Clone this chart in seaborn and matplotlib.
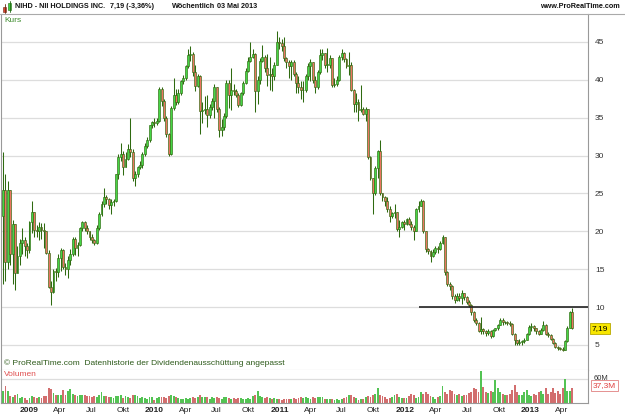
import pandas as pd
import matplotlib
matplotlib.use("Agg")
import matplotlib.pyplot as plt
import matplotlib.dates as mdates
import matplotlib.transforms as mtransforms
from matplotlib.lines import Line2D
from matplotlib.patches import Rectangle
import seaborn as sns

# weekly candles NIHD, last week ends 03 Mai 2013
last_date = "2013-05-03"
first_open = 22.0

close = [25.5, 16.0, 25.5, 17.0, 21.0, 14.5, 16.8, 18.5, 18.8, 18.0,
         17.5, 21.2, 22.5, 20.2, 20.0, 20.6, 20.2, 20.0, 17.2, 12.7,
         12.0, 14.8, 14.6, 16.5, 17.5, 15.3, 15.0, 16.2, 17.0, 19.0,
         17.8, 18.2, 20.5, 21.2, 20.4, 20.0, 19.3, 18.8, 18.5, 20.5,
         22.3, 23.6, 24.5, 24.2, 23.5, 23.8, 24.0, 27.5, 29.8, 30.2,
         28.5, 29.5, 30.8, 30.4, 27.0, 27.6, 28.5, 28.8, 30.2, 31.3,
         32.0, 34.0, 34.4, 34.3, 34.6, 38.8, 37.2, 35.0, 32.8, 30.2,
         36.3, 38.0, 37.0, 38.3, 39.8, 40.2, 41.8, 43.2, 43.4, 41.0,
         39.2, 40.5, 35.9, 36.0, 36.2, 35.3, 36.4, 37.2, 39.0, 36.2,
         33.3, 33.8, 35.2, 39.6, 38.0, 38.7, 38.5, 38.0, 36.6, 38.2,
         39.6, 41.2, 42.5, 43.0, 43.4, 38.5, 40.0, 42.5, 43.0, 41.5,
         40.6, 40.7, 40.5, 42.0, 45.0, 44.8, 44.5, 42.9, 42.3, 41.8,
         42.3, 40.8, 39.6, 39.0, 38.6, 38.6, 40.5, 41.8, 42.4, 40.0,
         39.0, 41.0, 43.2, 43.5, 42.0, 42.0, 42.8, 39.3, 39.5, 40.0,
         43.0, 43.5, 42.7, 41.8, 42.0, 38.7, 36.8, 37.0, 36.0, 36.2,
         35.5, 36.2, 29.8, 27.0, 25.0, 28.4, 30.6, 25.0, 24.5, 24.0,
         23.0, 22.0, 22.4, 22.6, 20.3, 20.6, 21.2, 21.0, 21.6, 21.0,
         20.6, 20.1, 22.9, 23.4, 24.0, 20.0, 17.6, 17.4, 16.8, 17.3,
         17.8, 17.6, 18.5, 19.3, 14.6, 13.0, 12.8, 11.4, 11.0, 11.5,
         11.2, 11.8, 11.3, 10.7, 10.3, 9.3, 8.3, 7.9, 6.9, 7.1,
         6.8, 6.6, 6.9, 6.2, 7.0, 7.2, 7.6, 8.3, 8.0, 8.0,
         7.9, 7.8, 6.5, 5.6, 5.3, 5.4, 5.5, 5.7, 6.4, 7.4,
         7.5, 7.2, 6.8, 6.5, 7.0, 7.7, 6.5, 6.3, 5.8, 5.3,
         4.8, 4.6, 4.5, 4.4, 5.5, 7.3, 9.3, 7.19]

high = [30.4, 27.5, 26.6, 25.5, 21.5, 21.0, 18.0, 19.0, 20.5, 19.3,
        18.5, 21.4, 24.0, 22.6, 20.8, 21.2, 21.1, 21.1, 19.5, 17.5,
        13.5, 15.0, 15.2, 17.0, 17.8, 17.6, 15.8, 16.8, 17.6, 19.3,
        19.2, 18.6, 20.6, 21.4, 21.3, 20.8, 20.0, 19.7, 19.0, 20.8,
        22.5, 24.0, 25.7, 24.8, 24.4, 24.2, 24.3, 27.6, 30.2, 31.6,
        30.6, 30.5, 31.5, 35.0, 30.8, 28.0, 28.6, 29.3, 30.4, 31.6,
        32.4, 34.0, 34.6, 35.0, 34.9, 39.0, 39.0, 37.4, 35.2, 33.0,
        36.5, 40.2, 38.8, 38.8, 40.0, 40.6, 42.0, 44.0, 44.5, 43.6,
        42.0, 40.8, 40.6, 37.0, 37.8, 38.0, 36.8, 37.6, 39.4, 38.6,
        36.4, 34.8, 35.6, 40.0, 40.0, 41.5, 39.4, 38.8, 38.3, 38.4,
        39.8, 41.5, 43.0, 45.0, 44.0, 43.5, 40.5, 42.8, 44.6, 43.2,
        43.4, 43.0, 41.6, 42.3, 46.4, 45.7, 45.4, 45.6, 43.0, 42.6,
        42.6, 42.6, 41.0, 40.5, 39.8, 39.8, 40.8, 42.2, 42.7, 42.3,
        40.5, 41.3, 44.0, 44.0, 43.4, 44.2, 43.2, 42.5, 40.2, 40.5,
        43.3, 44.0, 43.6, 42.8, 43.6, 42.3, 38.8, 38.2, 37.4, 39.3,
        36.4, 36.4, 36.0, 29.9, 26.8, 28.6, 30.7, 32.0, 25.1, 24.6,
        24.5, 23.3, 22.6, 23.6, 22.4, 21.5, 21.4, 21.5, 21.8, 21.9,
        21.4, 20.8, 23.1, 24.0, 24.2, 24.1, 20.1, 17.8, 17.5, 17.6,
        18.1, 18.0, 18.7, 19.5, 19.3, 14.8, 13.3, 12.9, 11.7, 11.8,
        11.8, 12.2, 11.9, 11.4, 11.0, 10.4, 9.5, 8.5, 8.0, 8.7,
        7.2, 7.0, 7.1, 7.0, 7.1, 7.3, 7.8, 8.6, 8.5, 8.2,
        8.2, 8.2, 7.9, 6.6, 5.7, 5.8, 5.7, 5.9, 6.6, 7.6,
        7.9, 7.6, 7.3, 7.0, 7.2, 8.1, 7.8, 6.7, 6.4, 5.9,
        5.4, 4.9, 4.8, 4.7, 5.6, 7.5, 9.5, 9.9]

low = [13.1, 13.5, 15.0, 15.5, 13.1, 12.2, 14.5, 15.5, 17.0, 16.8,
       16.5, 17.2, 19.8, 19.3, 19.3, 18.8, 19.0, 17.8, 17.0, 12.5,
       10.3, 11.8, 13.5, 14.0, 14.8, 15.0, 14.2, 13.8, 15.5, 16.8,
       16.9, 16.8, 18.0, 20.0, 20.0, 19.6, 18.9, 18.4, 18.2, 18.3,
       20.2, 22.0, 23.2, 23.6, 23.0, 22.3, 23.3, 23.8, 26.9, 29.3,
       27.4, 28.6, 29.4, 29.8, 26.6, 26.0, 27.2, 28.2, 28.4, 30.0,
       31.0, 31.8, 33.6, 33.7, 34.0, 34.4, 36.5, 34.5, 32.4, 30.0,
       30.1, 36.0, 36.6, 36.8, 38.0, 39.4, 40.0, 41.5, 42.5, 40.5,
       38.5, 39.0, 32.9, 34.3, 35.5, 33.8, 35.0, 36.0, 35.0, 35.8,
       32.4, 32.6, 33.4, 35.0, 36.3, 36.0, 38.0, 37.7, 36.4, 36.5,
       38.0, 39.4, 41.0, 42.4, 42.8, 35.8, 36.8, 39.5, 42.3, 41.0,
       39.2, 38.6, 38.5, 40.0, 42.0, 44.0, 43.8, 42.5, 41.6, 40.2,
       40.0, 40.5, 38.3, 38.2, 37.5, 37.0, 38.4, 40.0, 39.8, 39.6,
       38.3, 38.8, 40.8, 42.6, 41.6, 41.0, 41.6, 39.0, 39.0, 39.2,
       39.8, 42.6, 42.3, 41.5, 40.6, 38.5, 35.7, 35.7, 34.6, 35.8,
       35.3, 34.6, 29.5, 26.8, 22.3, 24.8, 27.0, 24.8, 24.0, 23.4,
       22.6, 21.2, 21.8, 21.8, 20.0, 19.3, 20.4, 20.2, 20.8, 20.8,
       20.2, 18.9, 20.0, 22.6, 23.4, 19.8, 17.3, 17.0, 16.0, 16.6,
       17.0, 17.2, 17.5, 18.3, 14.3, 12.8, 12.3, 11.1, 10.6, 10.8,
       10.8, 10.4, 11.0, 10.4, 10.0, 9.0, 8.0, 7.6, 6.7, 6.4,
       6.5, 6.2, 6.3, 5.9, 6.1, 6.8, 7.0, 7.6, 7.6, 7.8,
       7.6, 7.5, 6.3, 5.0, 5.0, 5.0, 5.0, 5.3, 5.6, 6.3,
       6.9, 6.9, 6.5, 6.3, 6.4, 6.8, 6.3, 6.0, 5.6, 5.1,
       4.6, 4.4, 4.3, 4.2, 4.3, 5.4, 7.2, 7.1]

# volume in millions of shares
volume_m = [31, 42, 29, 17, 15, 21, 22, 12, 14, 12,
            8, 12, 17, 14, 12, 14, 12, 17, 17, 37,
            35, 25, 21, 19, 21, 33, 21, 29, 34, 22,
            21, 17, 19, 19, 21, 17, 17, 14, 17, 14,
            19, 27, 17, 17, 14, 14, 12, 17, 17, 19,
            12, 17, 14, 12, 21, 19, 17, 12, 14, 12,
            11, 14, 14, 8, 12, 14, 14, 15, 12, 17,
            19, 17, 14, 12, 11, 10, 12, 10, 12, 14,
            12, 14, 19, 15, 14, 14, 11, 14, 12, 15,
            12, 10, 14, 14, 12, 11, 12, 10, 12, 12,
            11, 10, 12, 11, 17, 21, 29, 17, 14, 12,
            14, 12, 10, 12, 11, 11, 8, 10, 11, 10,
            11, 12, 11, 12, 14, 12,
            14, 12, 10, 14, 12, 15, 14, 14, 10, 10,
            10, 10, 8, 10, 8, 10, 12, 14, 19, 21,
            14, 12, 8, 11, 10, 14, 17, 14, 21, 22,
            37, 21, 17, 14, 10, 12, 14, 19, 22, 14,
            12, 12, 12, 17, 22, 21, 12, 14, 27, 22,
            27, 22, 17, 14, 11, 14, 17, 42, 27, 22,
            33, 31, 22, 19, 22, 17, 19, 19, 25, 27,
            37, 36, 27, 79, 39, 27, 25, 29, 27, 58,
            37, 27, 22, 21, 21, 22, 33, 46, 27, 19,
            21, 27, 33, 21, 17, 22, 21, 27, 29, 22,
            37, 22, 27, 37, 25, 29, 22, 37, 61, 31,
            31, 37.3]

price_ticks = [5, 10, 15, 20, 25, 30, 35, 40, 45]
resistance_level = 10
resistance_from = "2012-02-10"
month_names = {4: "Apr", 7: "Jul", 10: "Okt"}

sns.set_style("white")
plt.rcParams["font.family"] = ["Liberation Sans", "DejaVu Sans"]

dates = pd.date_range(end=last_date, periods=len(close), freq="W-FRI")
df = pd.DataFrame({"date": dates, "close": close, "high": high, "low": low,
                   "vol": volume_m})
df["open"] = df["close"].shift(1).fillna(first_open)
df["high"] = df[["high", "open", "close"]].max(axis=1)
df["low"] = df[["low", "open", "close"]].min(axis=1)
df["x"] = mdates.date2num(df["date"])
df["dir"] = ["up" if c >= o else "down" for o, c in zip(df["open"], df["close"])]

W, H = 625, 417
fig = plt.figure(figsize=(W / 100, H / 100), dpi=100)
ax = fig.add_axes([1 / W, 1 - 370 / H, 587 / W, (370 - 14) / H])
axv = fig.add_axes([1 / W, 1 - 403 / H, 587 / W, 33 / H])

green_fill = "#45d645"
red_fill = "#ea7560"
edge = "#2f6a10"

# candles
ax.vlines(df["x"], df["low"], df["high"], color=edge, lw=0.75, zorder=2)
body_lo = df[["open", "close"]].min(axis=1)
body_h = (df["close"] - df["open"]).abs().clip(lower=0.08)
ax.bar(df["x"], body_h, bottom=body_lo, width=5.6,
       color=[green_fill if d == "up" else red_fill for d in df["dir"]],
       edgecolor=edge, linewidth=0.45, zorder=3)

x_left = df["x"].iloc[0] - 6
x_right = df["x"].iloc[-1] + 46
ax.set_xlim(x_left, x_right)
ax.set_ylim(1.7, 48.67)
ax.hlines(resistance_level, mdates.date2num(pd.Timestamp(resistance_from)), x_right,
          color="#222222", lw=1.2, zorder=4)

ax.yaxis.tick_right()
ax.set_yticks(price_ticks)
ax.set_yticklabels([str(t) for t in price_ticks])
ax.tick_params(axis="y", length=0, pad=5, labelsize=6, labelcolor="#333333")
ax.set_xticks([])
ax.grid(axis="y", color="#dddddd", lw=0.9)
ax.set_axisbelow(True)
for s in ["left", "right"]:
    ax.spines[s].set_color("#999999")
    ax.spines[s].set_linewidth(0.8)
ax.spines["top"].set_visible(False)
ax.spines["bottom"].set_color("#bbbbbb")
ax.spines["bottom"].set_linewidth(0.8)

# last price tag
tr = mtransforms.blended_transform_factory(ax.transAxes, ax.transData)
ax.text(1 + 4 / 587, close[-1], f"{close[-1]:.2f}".replace(".", ","), transform=tr,
        fontsize=6, va="center", ha="left", color="black", clip_on=False,
        bbox=dict(boxstyle="square,pad=0.25", fc="#f7e600", ec="#b8a800", lw=0.6))
ax.text(3 / 587, 1 - 7 / 356, "Kurs", transform=ax.transAxes, fontsize=6,
        color="#3a8a2a", va="center", ha="left")
ax.text(3 / 587, 1 - 349 / 356,
        "\u00a9 ProRealTime.com  Datenhistorie der Dividendenaussch\u00fcttung angepasst",
        transform=ax.transAxes, fontsize=6, color="#2d5a1a", va="center", ha="left")

# volume
sns.barplot(data=df, x="x", y="vol", hue="dir", hue_order=["up", "down"],
            palette={"up": "#40d640", "down": "#e25e5e"}, native_scale=True,
            width=0.78, errorbar=None, dodge=False, legend=False, linewidth=0, ax=axv)
axv.set_xlim(x_left, x_right)
axv.set_ylim(0, 82.5)
axv.set_xlabel("")
axv.set_ylabel("")
axv.set_yticks([60])
axv.set_yticklabels([])
axv.tick_params(axis="y", length=0)
axv.grid(axis="y", color="#dddddd", lw=0.9)
axv.set_axisbelow(True)
for s in ["left", "right", "bottom"]:
    axv.spines[s].set_color("#999999")
    axv.spines[s].set_linewidth(0.8)
axv.spines["top"].set_visible(False)

quarters = pd.date_range("2008-10-01", "2013-05-31", freq="QS-JAN")
quarters = [q for q in quarters if x_left < mdates.date2num(q) < x_right]
axv.set_xticks(mdates.date2num(quarters))
axv.set_xticklabels([str(q.year) if q.month == 1 else month_names[q.month] for q in quarters])
axv.tick_params(axis="x", length=0, pad=3, labelsize=6, labelcolor="#222222")
for lab, q in zip(axv.get_xticklabels(), quarters):
    if q.month == 1:
        lab.set_fontweight("bold")

trv = mtransforms.blended_transform_factory(axv.transAxes, axv.transData)
axv.text(1 + 6 / 587, 60, "60M", transform=trv, fontsize=5.5, color="#333333",
         va="center", ha="left", clip_on=False)
axv.text(1 + 5 / 587, 44, "37,3M", transform=trv, fontsize=6, color="#e04040",
         va="center", ha="left", clip_on=False, zorder=5,
         bbox=dict(boxstyle="square,pad=0.2", fc="white", ec="#e08080", lw=0.6))
axv.text(3 / 587, 1 - 5 / 33, "Volumen", transform=axv.transAxes, fontsize=6,
         color="#e05050", va="center", ha="left")

# header line
def fx(px):
    return px / W

def fy(py):
    return 1 - py / H

fig.add_artist(Line2D([0, 1], [fy(14), fy(14)], color="#aaaaaa", lw=0.8))
fig.add_artist(Line2D([fx(4.5), fx(4.5)], [fy(4), fy(13)], color="#6a2a10", lw=0.6))
fig.add_artist(Rectangle((fx(3), fy(12)), 3 / W, 5 / H, fc="#e04030", ec="#6a2a10", lw=0.4))
fig.add_artist(Line2D([fx(9.5), fx(9.5)], [fy(1), fy(12)], color="#1f6a10", lw=0.6))
fig.add_artist(Rectangle((fx(8), fy(10)), 3 / W, 7 / H, fc="#40d040", ec="#1f6a10", lw=0.4))

hdr = dict(fontsize=5.2, fontweight="bold", va="center", color="#111111")
fig.text(fx(15), fy(7), "NIHD - NII HOLDINGS INC.", ha="left", **hdr)
fig.text(fx(110), fy(7), "7,19 (-3,36%)", ha="left", **hdr)
fig.text(fx(172), fy(7), "W\u00f6chentlich", ha="left", **hdr)
fig.text(fx(217), fy(7), "03 Mai 2013", ha="left", **hdr)
fig.text(fx(620), fy(7), "www.ProRealTime.com", ha="right", **hdr)

fig.savefig("out.png", dpi=100)
